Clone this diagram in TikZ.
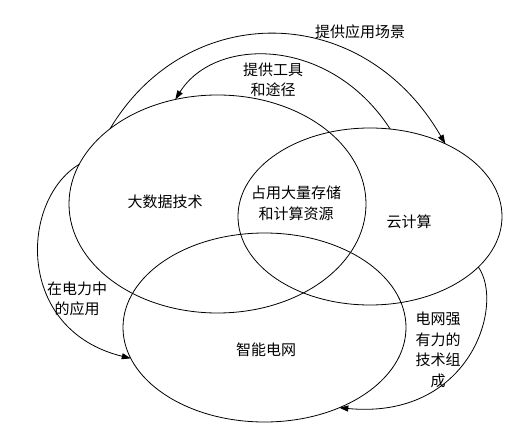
\documentclass[tikz,border=0pt]{standalone}
\usepackage{fontspec}
\newfontfamily\cjk{Noto Sans CJK SC}
\usetikzlibrary{shapes.geometric,arrows.meta}
\begin{document}
\begin{tikzpicture}[x=1pt,y=-1pt,
  set/.style={draw,ellipse,inner sep=0pt,outer sep=0pt,line width=0.8pt},
  lbl/.style={font=\cjk\fontsize{15}{20.5}\selectfont,align=center,inner sep=0pt},
  flow/.style={line width=0.8pt,-{Triangle[length=9pt,width=6pt]}}]
\useasboundingbox[fill=white] (0,0) rectangle (521,443);
% sets
\node[set,minimum width=297pt,minimum height=218pt] (bd) at (217.5,204) {};
\node[set,minimum width=264pt,minimum height=177pt] (cc) at (370,216.5) {};
\node[set,minimum width=283pt,minimum height=189pt] (sg) at (264.5,327.5) {};
% labels of sets
\node[lbl] (tbd) at (165,202) {大数据技术};
\node[lbl] (tcc) at (409,222) {云计算};
\node[lbl] (tsg) at (266,350) {智能电网};
\node[lbl] (tmid) at (296,203.5) {占用大量存储\\和计算资源};
% connectors
\draw[flow] (bd.145) .. controls (187,0) and (362,0) .. (cc.44);
\draw[flow] (cc.77) .. controls (330,36) and (215,36) .. (bd.112);
\draw[flow] (bd.164) .. controls (20,200) and (15,330) .. (sg.193);
\draw[flow] (cc.335) .. controls (505,305) and (470,420) .. (sg.313);
% connector labels
\node[lbl] (l1) at (360,32) {提供应用场景};
\node[lbl] (l2) at (273,80) {提供工具\\和途径};
\node[lbl] (l3) at (77,299) {在电力中\\的应用};
\node[lbl] (l4) at (438,350) {电网强\\有力的\\技术组\\成};
\end{tikzpicture}
\end{document}
